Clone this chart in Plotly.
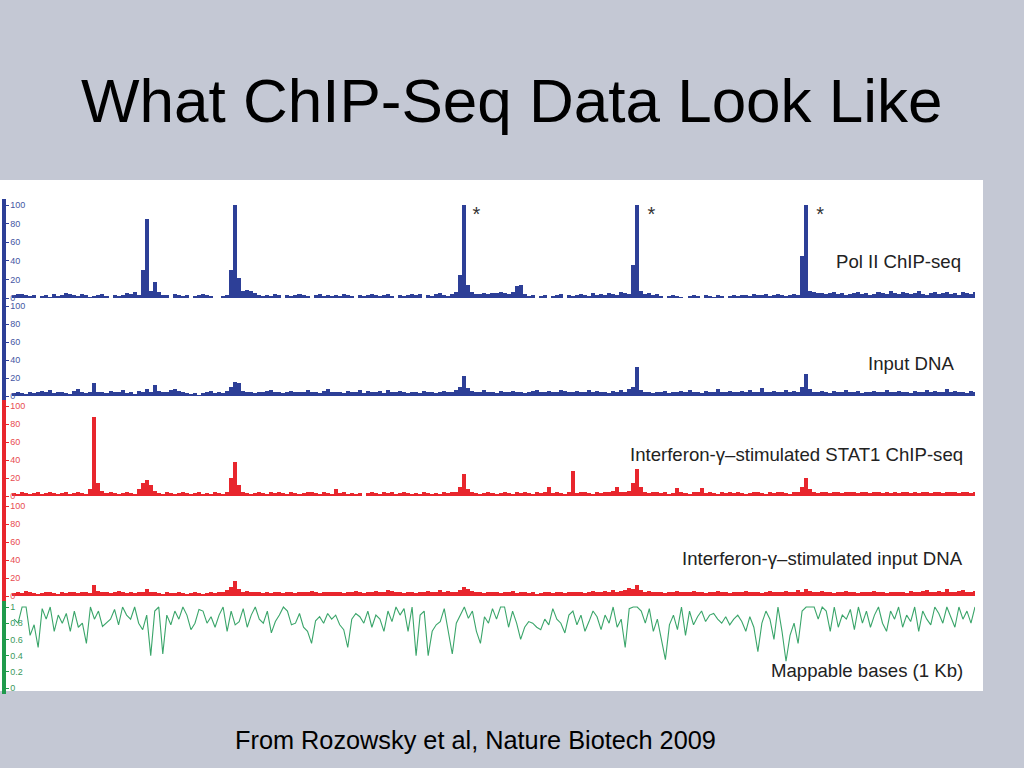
import plotly.graph_objects as go

# ---------------- data ----------------
bins = list(range(240))

pol2_chip = [
    3,4,4,3,2,3,0,2,3,1,4,2,3,5,4,3,2,4,3,1,
    2,3,4,2,0,3,2,3,5,4,6,3,30,85,8,17,6,3,3,0,
    4,3,2,3,0,2,3,4,3,2,0,0,2,3,30,100,22,7,9,8,
    5,3,2,3,2,4,3,0,3,2,3,4,3,2,0,3,4,2,3,2,
    3,2,4,3,2,0,3,2,3,4,3,2,3,4,2,0,3,2,3,4,
    3,4,0,3,2,4,5,3,2,4,6,25,100,14,6,4,4,5,4,5,
    5,6,5,4,6,13,14,4,2,3,0,2,3,0,2,3,4,0,3,2,
    3,4,3,2,5,3,4,3,5,4,3,6,5,4,35,100,8,4,5,3,
    4,2,0,2,3,2,1,0,2,3,2,0,3,2,1,3,2,0,2,3,
    2,3,3,2,4,3,3,4,2,3,4,3,2,3,4,3,45,100,8,6,
    5,5,4,5,6,4,5,3,4,5,6,4,5,3,4,6,5,4,7,5,
    4,6,5,4,5,7,4,3,5,6,4,5,6,4,5,3,6,5,4,6,
]

input_dna = [
    3,4,3,2,4,3,5,6,4,7,3,5,4,3,2,6,8,4,3,5,
    14,4,5,3,6,4,5,7,3,4,2,6,5,8,4,12,6,4,5,7,
    8,6,4,3,2,3,1,3,5,6,3,4,3,6,10,16,14,6,4,5,
    3,4,5,6,7,4,5,3,4,6,5,4,5,7,4,5,3,6,8,5,
    4,5,3,6,4,5,7,3,6,5,4,6,3,7,5,4,6,5,3,4,
    5,3,6,4,5,3,4,6,5,4,7,10,22,9,6,5,4,7,4,5,
    3,6,4,5,6,4,5,3,4,6,7,5,4,6,5,4,7,6,5,4,
    6,4,5,7,4,6,5,4,3,6,5,7,4,8,10,32,7,4,5,3,
    5,4,6,3,5,4,6,5,7,4,5,3,6,5,4,8,5,4,6,5,
    4,6,5,7,4,5,9,5,4,6,5,4,7,5,6,4,10,25,8,5,
    4,6,5,3,6,5,4,7,5,4,6,3,5,4,6,5,4,7,5,4,
    6,5,4,3,6,5,4,7,5,6,4,5,8,4,6,5,4,3,6,5,
]

stat1_chip = [
    3,2,4,3,2,3,5,2,3,4,3,2,3,4,2,3,4,3,2,8,
    88,15,6,3,4,3,2,3,4,3,2,8,14,18,12,6,3,2,4,3,
    2,3,4,3,2,3,4,2,3,2,4,3,2,4,20,38,12,4,3,2,
    3,4,3,2,4,3,5,3,2,4,3,2,3,4,5,3,2,4,3,2,
    8,3,4,2,3,2,3,0,3,4,3,2,4,3,5,2,3,4,3,2,
    3,2,4,3,2,3,2,4,3,5,4,10,24,8,4,3,2,3,4,3,
    2,3,4,3,2,4,3,5,3,2,4,3,5,10,3,4,3,2,4,28,
    3,5,4,3,2,4,3,5,4,6,10,5,4,6,14,30,10,4,3,5,
    4,3,5,2,3,9,4,3,2,4,5,9,3,4,3,2,4,3,5,3,
    4,3,2,3,4,5,3,2,4,3,5,4,3,2,4,5,10,20,8,4,
    3,4,5,3,4,5,3,4,5,4,3,5,4,3,4,5,3,4,3,4,
    3,4,5,3,4,3,5,4,3,4,5,3,4,5,4,3,4,5,3,4,
]

stat1_input = [
    3,4,3,6,4,3,2,3,4,5,3,2,4,3,5,4,3,4,5,3,
    12,6,4,5,3,4,6,5,3,4,3,5,4,8,5,4,3,2,4,3,
    3,4,3,2,3,4,3,2,3,4,3,5,4,7,10,17,8,4,6,5,
    4,5,3,4,3,5,4,3,5,4,3,4,5,4,6,5,3,4,5,4,
    5,4,3,5,4,6,5,3,4,5,6,4,5,7,6,4,5,3,4,5,
    3,4,5,6,4,5,7,5,6,4,5,7,10,8,6,5,4,3,4,5,
    4,3,5,4,6,3,4,5,3,4,2,3,4,5,3,4,5,3,4,5,
    4,5,3,4,6,5,4,6,5,7,5,6,7,9,8,12,7,5,6,4,
    5,4,3,5,4,6,5,4,5,6,4,5,3,4,5,6,5,4,3,4,
    5,4,6,5,4,5,3,4,6,5,4,5,6,4,5,7,5,8,6,5,
    4,6,5,4,3,5,4,6,5,4,3,5,4,5,6,4,5,3,4,5,
    4,5,3,6,5,4,6,7,5,4,6,5,8,4,5,6,7,5,4,6,
]

mappable = [
    0.85,0.8,1,1,0.65,0.78,0.5,0.98,0.85,1,0.7,0.9,0.8,0.92,0.7,0.95,0.75,0.8,0.55,1,
    0.85,0.95,0.76,0.8,0.85,0.97,0.78,1,0.9,0.85,1,0.8,0.72,0.9,0.4,0.95,1,0.42,0.9,0.78,
    0.95,0.85,1,0.9,0.72,0.8,0.97,0.95,0.8,0.88,0.75,0.9,1,0.7,0.95,0.78,0.82,0.98,0.75,0.9,
    1,0.85,0.8,0.95,0.68,0.82,0.9,1,0.95,0.78,0.8,0.92,0.75,0.7,0.55,0.83,0.88,0.8,0.92,0.85,
    0.9,0.78,0.72,0.5,0.85,0.92,0.88,0.8,0.95,0.75,0.9,0.85,0.7,0.95,0.82,1,0.9,0.98,0.7,1,
    0.4,0.9,0.95,0.4,0.7,0.78,0.82,0.98,0.72,0.42,0.8,0.9,1,0.86,0.95,0.7,0.55,0.88,0.8,0.98,
    0.85,1,1,0.75,0.95,0.8,0.6,0.75,0.82,0.8,0.75,0.72,0.85,0.78,0.98,0.85,0.8,0.68,0.9,0.95,
    0.78,0.9,0.7,0.82,0.95,0.88,0.72,0.9,0.8,1,0.75,0.85,0.5,0.98,1,1,0.95,0.8,0.98,0.7,
    0.85,0.6,0.35,0.78,0.9,0.72,1,0.65,0.95,0.78,0.88,0.95,0.82,0.9,0.92,0.85,0.8,0.88,0.78,0.85,
    0.9,0.82,0.7,0.88,0.75,0.45,0.8,0.95,0.85,0.6,1,0.7,0.33,0.65,0.8,0.55,0.95,1,1,1,
    0.85,1,0.95,0.7,1,0.75,0.9,0.85,0.97,0.72,1,0.8,0.95,0.75,0.9,1,0.8,0.7,0.95,0.85,
    1,0.75,0.9,0.82,1,0.7,0.95,0.85,0.78,1,0.92,0.8,1,0.88,0.75,1,0.85,0.95,0.8,1,
]

track_names = [
    "Pol II ChIP-seq",
    "Input DNA",
    "Interferon-\u03b3\u2013stimulated STAT1 ChIP-seq",
    "Interferon-\u03b3\u2013stimulated input DNA",
    "Mappable bases (1 Kb)",
]
count_ticks = [0, 20, 40, 60, 80, 100]
count_ticktext = ["0", "20", "40", "60", "80", "100"]
frac_ticks = [0, 0.2, 0.4, 0.6, 0.8, 1]
frac_ticktext = ["0", "0.2", "0.4", "0.6", "0.8", "1"]
star_bins = [115, 158.5, 200.5]
star_level = [88, 88, 88]

title_text = "What ChIP-Seq Data Look Like"
source_text = "From Rozowsky et al, Nature Biotech 2009"

# ---------------- styling ----------------
W, H = 1024, 768
BLUE = "#2d3f97"
RED = "#e8262d"
GREEN_AX = "#1f9a4c"
GREEN_LN = "#3aa56a"
TICK_COLORS = ["#4555a3", "#4555a3", "#e84a50", "#e84a50", "#3a9a5c"]
BG = "#c4c8d4"
SANS = "Liberation Sans, Arial, Helvetica"

def py(px):
    return 1 - px / H

# (bottom px, top px) of each track's value range
track_px = [(298, 205), (396, 306), (496, 406), (596, 506), (688, 607)]
label_y_px = [262, 363, 454, 558, 670]
label_x_px = [963, 956, 965, 965, 965]
colors = [BLUE, BLUE, RED, RED, GREEN_AX]
series = [pol2_chip, input_dna, stat1_chip, stat1_input]
PAD_PX = 6  # axis extends a little past 0 and the max value

fig = go.Figure()

for k, vals in enumerate(series):
    sfx = "" if k == 0 else str(k + 1)
    fig.add_trace(go.Bar(
        x=bins, y=vals, xaxis="x" + sfx, yaxis="y" + sfx,
        marker=dict(color=colors[k], line=dict(width=0)),
        showlegend=False, hoverinfo="skip",
    ))

fig.add_trace(go.Scatter(
    x=bins, y=mappable, xaxis="x5", yaxis="y5", mode="lines",
    line=dict(color=GREEN_LN, width=1.1), showlegend=False, hoverinfo="skip",
))

fig.add_trace(go.Scatter(
    x=star_bins, y=star_level, xaxis="x", yaxis="y",
    mode="text", text=["*"] * len(star_bins),
    textfont=dict(size=20, color="#333333", family=SANS),
    showlegend=False, hoverinfo="skip",
))

layout = dict(
    width=W, height=H,
    margin=dict(l=0, r=0, t=0, b=0),
    paper_bgcolor=BG, plot_bgcolor="rgba(0,0,0,0)",
    bargap=0, showlegend=False,
)

xdom = [10 / W, 975 / W]
for k in range(5):
    sfx = "" if k == 0 else str(k + 1)
    bot, top = track_px[k]
    if k < 4:
        tv, tt, vmax = count_ticks, count_ticktext, 100
    else:
        tv, tt, vmax = frac_ticks, frac_ticktext, 1
    per_px = vmax / (bot - top)
    pad = PAD_PX * per_px
    layout["xaxis" + sfx] = dict(
        domain=xdom, range=[-1, 239], visible=False, fixedrange=True,
        anchor="y" + sfx,
    )
    layout["yaxis" + sfx] = dict(
        domain=[py(bot + PAD_PX), py(top - PAD_PX)], range=[-pad, vmax + pad],
        anchor="free", position=4 / W, side="left",
        showline=True, linewidth=4, linecolor=colors[k],
        ticks="inside", ticklen=3, tickwidth=1, tickcolor=colors[k],
        tickvals=tv, ticktext=tt, ticklabelposition="inside",
        tickfont=dict(size=9, color=TICK_COLORS[k], family=SANS),
        showgrid=False, zeroline=False, fixedrange=True,
    )

fig.update_layout(**layout)

# white panel behind the tracks
fig.add_shape(type="rect", xref="paper", yref="paper",
              x0=0, x1=983 / W, y0=py(691), y1=py(180),
              fillcolor="white", line=dict(width=0), layer="below")

annotations = [
    dict(text=title_text, x=512 / W, y=py(100), xref="paper", yref="paper",
         xanchor="center", yanchor="middle", showarrow=False,
         font=dict(size=62, color="black", family=SANS)),
    dict(text=source_text, x=475 / W, y=py(740), xref="paper", yref="paper",
         xanchor="center", yanchor="middle", showarrow=False,
         font=dict(size=25.3, color="black", family=SANS)),
]
for name, lx, ly in zip(track_names, label_x_px, label_y_px):
    annotations.append(dict(
        text=name, x=lx / W, y=py(ly), xref="paper", yref="paper",
        xanchor="right", yanchor="middle", showarrow=False,
        font=dict(size=18.6, color="#222222", family=SANS)))
fig.update_layout(annotations=annotations)

fig.write_html("out.html",
               config={"displayModeBar": False, "staticPlot": True},
               post_script="document.body.style.margin='0';document.body.style.overflow='hidden';")
